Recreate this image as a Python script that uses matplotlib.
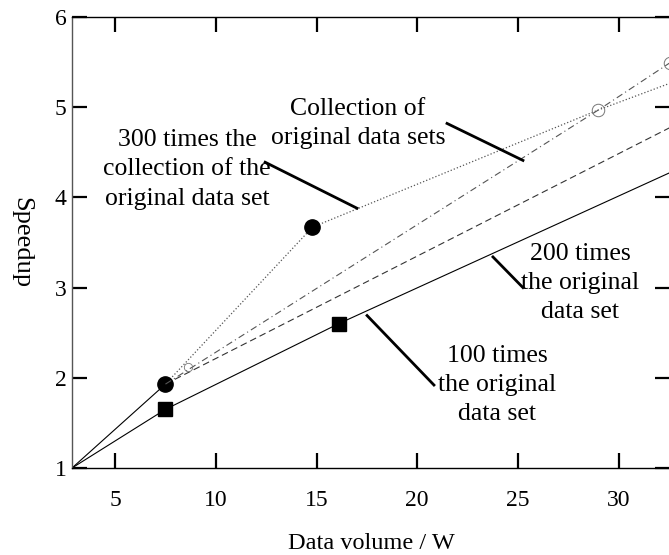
import numpy as np
import matplotlib
matplotlib.use('Agg')
import matplotlib.pyplot as plt

plt.rcParams['font.family'] = ['Liberation Serif', 'DejaVu Serif']

# data (x = data volume / W, y = speedup)
x0 = 2.86
x100 = [x0, 7.5, 16.1, 32.6]
y100 = [1.0, 1.65, 2.60, 4.28]

x200 = [x0, 7.5, 32.6]
y200 = [1.0, 1.93, 4.78]

x300 = [x0, 7.5, 14.8, 29.0, 32.6]
y300 = [1.0, 1.93, 3.67, 4.97, 5.27]

xcoll = [7.5, 29.0, 32.53]
ycoll = [1.93, 4.97, 5.49]

# open markers on the collection line
xopen = [8.64, 29.0, 32.53]
yopen = [2.12, 4.97, 5.49]

# annotations: text, text position, pointer start, pointer end
labels = ['300 times the\ncollection of the\noriginal data set',
          'Collection of\noriginal data sets',
          '200 times\nthe original\ndata set',
          '100 times\nthe original\ndata set']
label_xy = [(8.57, 4.31), (17.06, 4.82), (28.08, 3.05), (23.96, 1.92)]
ptr_from = [(12.45, 4.39), (21.48, 4.82), (23.76, 3.34), (17.51, 2.69)]
ptr_to = [(17.01, 3.88), (25.25, 4.41), (25.25, 3.00), (20.83, 1.92)]

fig = plt.figure(figsize=(6.69, 5.55), dpi=100)
ax = fig.add_axes([72/669, 87/555, 598/669, 451/555])

# solid "100 times" line with squares
ax.plot(x100, y100, '-', color='black', linewidth=0.8)
ax.plot(x100[1:3], y100[1:3], 's', color='black', markersize=10.5)

# dashed "200 times" line
ax.plot(x200[:2], y200[:2], '-', color='black', linewidth=0.8)
ax.plot(x200[1:], y200[1:], '--', color='#333333', linewidth=0.8, dashes=(6, 3.5))

# dotted "300 times the collection" line with filled circles
ax.plot(x300[1:], y300[1:], ':', color='#555555', linewidth=0.9)
ax.plot(x300[1:3], y300[1:3], 'o', color='black', markersize=11)

# dash-dot "collection of original data sets" line
ax.plot(xcoll, ycoll, '-.', color='#555555', linewidth=0.8, dashes=(6, 3, 1, 3))
ax.plot(xopen[1:], yopen[1:], 'o', mfc='none', mec='#777777', mew=0.7, markersize=9)
ax.plot(xopen[:1], yopen[:1], 'o', mfc='none', mec='#777777', mew=0.6, markersize=6)

for txt, xy, p0, p1 in zip(labels, label_xy, ptr_from, ptr_to):
    ax.text(xy[0], xy[1], txt, ha='center', va='center', fontsize=18.5, linespacing=1.42)
    ax.plot([p0[0], p1[0]], [p0[1], p1[1]], '-', color='black', linewidth=2)

ax.set_xlim(x0, 32.55)
ax.set_ylim(1, 6)
ax.set_xticks([5, 10, 15, 20, 25, 30])
ax.set_yticks([1, 2, 3, 4, 5, 6])
ax.tick_params(direction='in', length=11, width=1.6, top=True, right=True, labelsize=17)
ax.tick_params(axis='x', pad=15.5)
ax.tick_params(axis='y', pad=4)
for s in ax.spines.values():
    s.set_linewidth(1.0)
ax.spines['left'].set_color('#555555')

ax.set_xlabel('Data volume / W', fontsize=17.5, labelpad=16)
ax.set_ylabel('Speedup', fontsize=19, rotation=270, labelpad=32, va='bottom')

fig.savefig('out.png', dpi=100)
